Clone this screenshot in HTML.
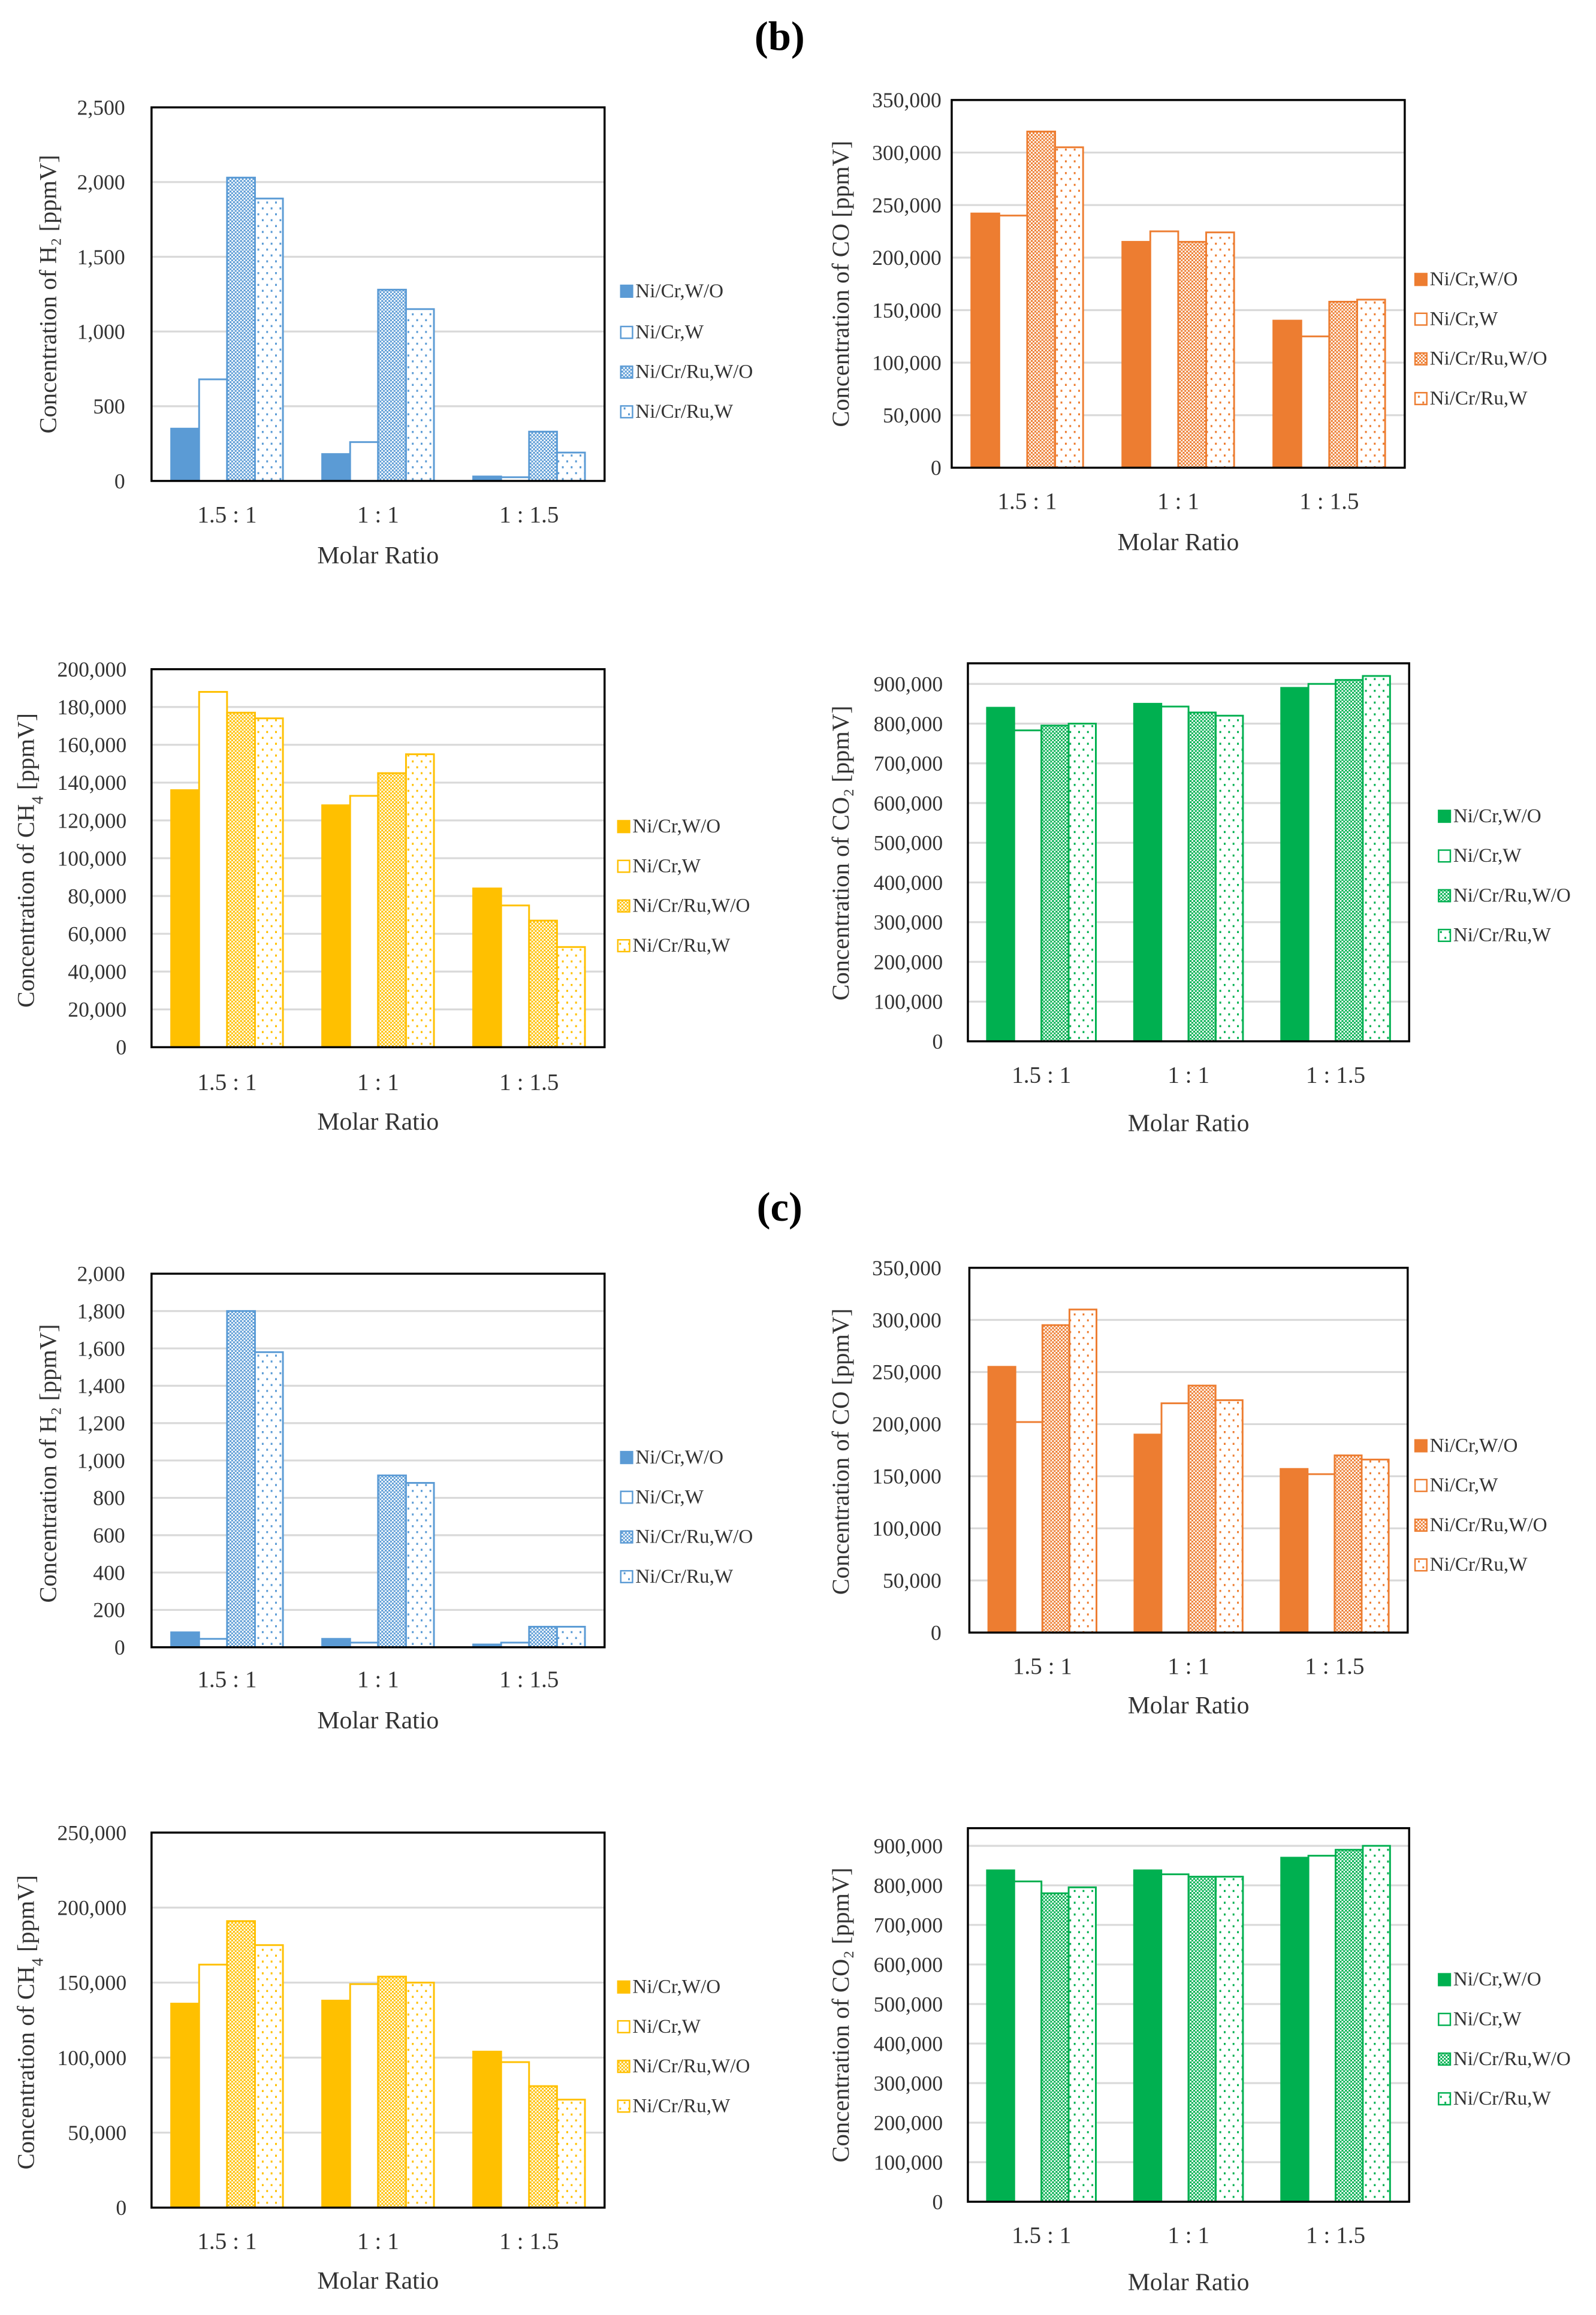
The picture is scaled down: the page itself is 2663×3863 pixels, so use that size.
<!DOCTYPE html>
<html><head><meta charset="utf-8"><style>
html,body{margin:0;padding:0;background:#fff;}
svg{display:block;}
text{font-family:"Liberation Serif",serif;fill:#333;}
</style></head>
<body>
<svg id="fig" width="2663" height="3863" viewBox="0 0 1085 1574" xmlns="http://www.w3.org/2000/svg">
<defs id="defs"></defs>
<text x="530" y="34" text-anchor="middle" font-size="28" font-weight="bold" style="fill:#000">(b)</text>
<text x="530" y="830" text-anchor="middle" font-size="28" font-weight="bold" style="fill:#000">(c)</text>
</svg>
<script>
const categories = ["1.5 : 1", "1 : 1", "1 : 1.5"];
const seriesNames = ["Ni/Cr,W/O", "Ni/Cr,W", "Ni/Cr/Ru,W/O", "Ni/Cr/Ru,W"];
// values indexed [category][series]
const h2bValues = [[350,680,2030,1890],[180,260,1280,1150],[30,25,330,190]];
const cobValues = [[242000,240000,320000,305000],[215000,225000,215000,224000],[140000,125000,158000,160000]];
const ch4bValues = [[136000,188000,177000,174000],[128000,133000,145000,155000],[84000,75000,67000,53000]];
const co2bValues = [[840000,783000,795000,800000],[850000,843000,828000,820000],[890000,900000,910000,920000]];
const h2cValues = [[80,45,1800,1580],[45,25,920,880],[15,25,110,110]];
const cocValues = [[255000,202000,295000,310000],[190000,220000,237000,223000],[157000,152000,170000,166000]];
const ch4cValues = [[136000,162000,191000,175000],[138000,149000,154000,150000],[104000,97000,81000,72000]];
const co2cValues = [[838000,810000,780000,795000],[838000,828000,822000,822000],[870000,875000,890000,900000]];
const h2bTicks = [0,500,1000,1500,2000,2500];
const coTicks = [0,50000,100000,150000,200000,250000,300000,350000];
const ch4bTicks = [0,20000,40000,60000,80000,100000,120000,140000,160000,180000,200000];
const co2Ticks = [0,100000,200000,300000,400000,500000,600000,700000,800000,900000];
const h2cTicks = [0,200,400,600,800,1000,1200,1400,1600,1800,2000];
const ch4cTicks = [0,50000,100000,150000,200000,250000];

const NS = "http://www.w3.org/2000/svg";
const svg = document.getElementById("fig");
const defs = document.getElementById("defs");
function mk(tag, attrs, parent){ const e=document.createElementNS(NS,tag); for(const k in attrs) e.setAttribute(k,attrs[k]); (parent||svg).appendChild(e); return e; }
function fmt(v){ return v.toLocaleString("en-US"); }

const colors = {blue:"#5b9bd5", orange:"#ed7d31", yellow:"#ffc000", green:"#00b050"};
for (const c in colors){
  const col = colors[c];
  const p1 = mk("pattern",{id:"chk-"+c,width:"2.4",height:"2.4",patternUnits:"userSpaceOnUse"},defs);
  mk("rect",{x:0,y:0,width:2.4,height:2.4,fill:"#fff"},p1);
  mk("rect",{x:0,y:0,width:1.3,height:1.3,fill:col},p1);
  mk("rect",{x:1.2,y:1.2,width:1.2,height:1.2,fill:col},p1);
  const p2 = mk("pattern",{id:"dot-"+c,width:"6",height:"8",patternUnits:"userSpaceOnUse"},defs);
  mk("rect",{x:0,y:0,width:6,height:8,fill:"#fff"},p2);
  mk("rect",{x:1,y:1,width:1.2,height:1.4,fill:col},p2);
  mk("rect",{x:4,y:5,width:1.2,height:1.4,fill:col},p2);
}
function fillFor(i,c){ return [colors[c],"#fff","url(#chk-"+c+")","url(#dot-"+c+")"][i]; }

function drawChart(o){
  const g = mk("g",{});
  
  
  const max = o.ticks[o.ticks.length-1];
  const yScale = v => o.y0 - (v/max)*(o.y0 - o.yTop);
  const gw = (o.x1 - o.x0)/categories.length;
  const bw = gw*0.74/4;
  o.ticks.forEach(t=>{
    const y = yScale(t);
    if (t>0 && y > o.boxTop+1){
      const l = mk("line",{x1:o.x0,x2:o.x1,y1:y,y2:y,stroke:"#d9d9d9","stroke-width":"1.3"},g);
      
      
    }
    const tx = mk("text",{x:o.x0-o.gap,y:y+5,"text-anchor":"end","font-size":"14.5"},g);
    tx.textContent = fmt(t);
    
    
  });
  o.values.forEach((row,ci)=>{
    row.forEach((v,si)=>{
      const x = o.x0 + ci*gw + gw*0.13 + si*bw;
      const y = yScale(v);
      const r = mk("rect",{x:x,y:y,width:bw,height:o.y0-y,fill:fillFor(si,o.color),stroke:colors[o.color],"stroke-width":"1.2"},g);
      
      
    });
    const cl = mk("text",{x:o.x0+ci*gw+gw/2,y:o.catY,"text-anchor":"middle","font-size":"16"},g);
    cl.textContent = categories[ci];
    
    
  });
  const box = mk("rect",{x:o.x0,y:o.boxTop,width:o.x1-o.x0,height:o.y0-o.boxTop,fill:"none",stroke:"#000","stroke-width":"1.4"},g);
  
  
  const xt = mk("text",{x:(o.x0+o.x1)/2,y:o.titleY,"text-anchor":"middle","font-size":"17"},g);
  xt.textContent = "Molar Ratio";
  
  
  const yt = mk("text",{x:0,y:0,"text-anchor":"middle","font-size":"16.5",transform:"translate("+o.ytX+","+o.ytY+") rotate(-90)"},g);
  yt.innerHTML = o.yTitle;
  
  
  seriesNames.forEach((n,si)=>{
    const ly = o.legY[si];
    const sq = mk("rect",{x:o.legX,y:ly-8,width:8,height:8,fill:fillFor(si,o.color),stroke:colors[o.color],"stroke-width":"1"},g);
    
    
    const lt = mk("text",{x:o.legX+10,y:ly,"font-size":"13.5"},g);
    lt.textContent = n;
    
    
  });
}

drawChart({name:"chart-h2-b",values:h2bValues,ticks:h2bTicks,color:"blue",gap:18,x0:103,x1:411,y0:327,yTop:73,boxTop:73,catY:355,titleY:383,ytX:38,ytY:200,yTitle:"Concentration of H₂ [ppmV]",legX:422,legY:[202,230,257,284]});
drawChart({name:"chart-co-b",values:cobValues,ticks:coTicks,color:"orange",gap:7,x0:647,x1:955,y0:318,yTop:68,boxTop:68,catY:346,titleY:374,ytX:577,ytY:193,yTitle:"Concentration of CO [ppmV]",legX:962,legY:[194,221,248,275]});
drawChart({name:"chart-ch4-b",values:ch4bValues,ticks:ch4bTicks,color:"yellow",gap:17,x0:103,x1:411,y0:712,yTop:455,boxTop:455,catY:741,titleY:768,ytX:23,ytY:585,yTitle:"Concentration of CH<tspan baseline-shift=\"sub\" font-size=\"11\">4</tspan>  [ppmV]",legX:420,legY:[566,593,620,647]});
drawChart({name:"chart-co2-b",values:co2bValues,ticks:co2Ticks,color:"green",gap:17,x0:658,x1:958,y0:708,yTop:465,boxTop:451,catY:736,titleY:769,ytX:577,ytY:580,yTitle:"Concentration of  CO₂ [ppmV]",legX:978,legY:[559,586,613,640]});
drawChart({name:"chart-h2-c",values:h2cValues,ticks:h2cTicks,color:"blue",gap:18,x0:103,x1:411,y0:1120,yTop:866,boxTop:866,catY:1147,titleY:1175,ytX:38,ytY:995,yTitle:"Concentration of H₂ [ppmV]",legX:422,legY:[995,1022,1049,1076]});
drawChart({name:"chart-co-c",values:cocValues,ticks:coTicks,color:"orange",gap:19,x0:659,x1:957,y0:1110,yTop:862,boxTop:862,catY:1138,titleY:1165,ytX:577,ytY:987,yTitle:"Concentration of CO [ppmV]",legX:962,legY:[987,1014,1041,1068]});
drawChart({name:"chart-ch4-c",values:ch4cValues,ticks:ch4cTicks,color:"yellow",gap:17,x0:103,x1:411,y0:1501,yTop:1246,boxTop:1246,catY:1529,titleY:1556,ytX:23,ytY:1375,yTitle:"Concentration of CH<tspan baseline-shift=\"sub\" font-size=\"11\">4</tspan>  [ppmV]",legX:420,legY:[1355,1382,1409,1436]});
drawChart({name:"chart-co2-c",values:co2cValues,ticks:co2Ticks,color:"green",gap:17,x0:658,x1:958,y0:1497,yTop:1255,boxTop:1243,catY:1525,titleY:1557,ytX:577,ytY:1370,yTitle:"Concentration of  CO₂ [ppmV]",legX:978,legY:[1350,1377,1404,1431]});
</script>
</body></html>
